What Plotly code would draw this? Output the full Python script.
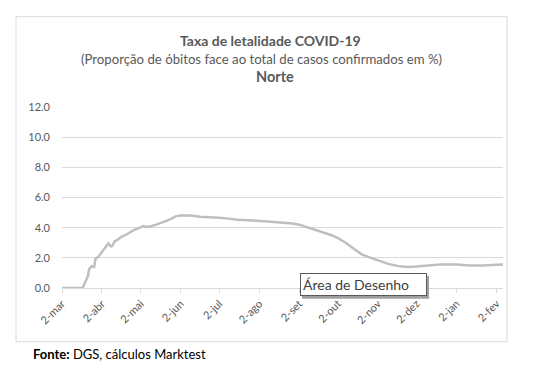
import plotly.graph_objects as go

# ---- data ----
dates = [
    "2020-03-02", "2020-03-18", "2020-03-20", "2020-03-22", "2020-03-23", "2020-03-25",
    "2020-03-27", "2020-03-28", "2020-03-30", "2020-04-01", "2020-04-04", "2020-04-06",
    "2020-04-07", "2020-04-09", "2020-04-10", "2020-04-12", "2020-04-15", "2020-04-17",
    "2020-04-20", "2020-04-22", "2020-04-24", "2020-04-27", "2020-04-30", "2020-05-04",
    "2020-05-06", "2020-05-10", "2020-05-14", "2020-05-18", "2020-05-22", "2020-05-26",
    "2020-05-29", "2020-06-02", "2020-06-10", "2020-06-17", "2020-06-25", "2020-07-02",
    "2020-07-09", "2020-07-16", "2020-07-25", "2020-08-02", "2020-08-10", "2020-08-20",
    "2020-08-28", "2020-09-02", "2020-09-08", "2020-09-14", "2020-09-20", "2020-09-27",
    "2020-10-02", "2020-10-08", "2020-10-14", "2020-10-20", "2020-10-26", "2020-11-02",
    "2020-11-10", "2020-11-18", "2020-11-25", "2020-12-02", "2020-12-10", "2020-12-20",
    "2021-01-02", "2021-01-12", "2021-01-22", "2021-02-02", "2021-02-07",
]
taxa = [
    0.0, 0.0, 0.4, 0.75, 1.25, 1.45,
    1.4, 1.95, 2.05, 2.3, 2.6, 2.85,
    2.95, 2.75, 2.8, 3.1, 3.25, 3.4,
    3.5, 3.6, 3.75, 3.85, 3.95, 4.1,
    4.05, 4.1, 4.2, 4.3, 4.45, 4.6,
    4.75, 4.8, 4.8, 4.72, 4.7, 4.65,
    4.6, 4.52, 4.5, 4.45, 4.4, 4.35,
    4.28, 4.2, 4.05, 3.85, 3.7, 3.5,
    3.3, 3.0, 2.6, 2.25, 2.05, 1.85,
    1.6, 1.45, 1.4, 1.42, 1.5, 1.55,
    1.55, 1.5, 1.5, 1.52, 1.55,
]
tick_dates = ["2020-03-02", "2020-04-02", "2020-05-02", "2020-06-02", "2020-07-02",
              "2020-08-02", "2020-09-02", "2020-10-02", "2020-11-02", "2020-12-02",
              "2021-01-02", "2021-02-02"]
tick_labels = ["2-mar", "2-abr", "2-mai", "2-jun", "2-jul", "2-ago", "2-set",
               "2-out", "2-nov", "2-dez", "2-jan", "2-fev"]
y_ticks = [0, 2, 4, 6, 8, 10, 12]
y_labels = ["0.0", "2.0", "4.0", "6.0", "8.0", "10.0", "12.0"]

title1 = "Taxa de letalidade COVID-19"
title2 = "(Proporção de óbitos face ao total de casos confirmados em %)"
title3 = "Norte"
source_bold = "Fonte:"
source_rest = " DGS, cálculos Marktest"
tooltip = "Área de Desenho"

# ---- layout geometry (pixels) ----
W, H = 550, 375
PL, PR, PT, PB = 62, 503, 107.3, 288.3
FONT = "Lato, 'Open Sans', sans-serif"
GRAY = "#595959"


def px(x):
    return (x - PL) / (PR - PL)


def py(y):
    return (PB - y) / (PB - PT)


fig = go.Figure()
fig.add_trace(go.Scatter(
    x=dates, y=taxa, mode="lines",
    line=dict(color="#BFBFBF", width=2.5),
    hoverinfo="skip", showlegend=False,
))

fig.update_layout(
    width=W, height=H,
    margin=dict(l=PL, r=W - PR, t=PT, b=H - PB),
    paper_bgcolor="white", plot_bgcolor="white",
    font=dict(family=FONT, color=GRAY, size=11),
    showlegend=False,
    xaxis=dict(
        range=["2020-03-02", "2021-02-07"],
        tickmode="array", tickvals=tick_dates, ticktext=tick_labels,
        tickangle=-45, ticks="outside", ticklen=4, tickcolor="#D9D9D9",
        showgrid=False, showline=True, linecolor="#D9D9D9", linewidth=1,
        zeroline=False, tickfont=dict(size=11, color=GRAY),
    ),
    yaxis=dict(
        range=[0, 12], tickmode="array", tickvals=y_ticks, ticktext=y_labels,
        showgrid=True, gridcolor="#D9D9D9", gridwidth=1, zeroline=False,
        showline=False, ticks="", tickfont=dict(size=11, color=GRAY),
        ticklabelstandoff=11,
    ),
)

# outer chart border
fig.add_shape(type="rect", xref="paper", yref="paper",
              x0=px(16), x1=px(507), y0=py(342), y1=py(17),
              line=dict(color="#D9D9D9", width=1), fillcolor="rgba(0,0,0,0)",
              layer="below")

# titles
fig.add_annotation(xref="paper", yref="paper", x=px(270), y=py(41),
                   text=f"<b>{title1}</b>", showarrow=False,
                   font=dict(size=14, color=GRAY), xanchor="center", yanchor="middle")
fig.add_annotation(xref="paper", yref="paper", x=px(261), y=py(59),
                   text=title2, showarrow=False,
                   font=dict(size=13.2, color=GRAY), xanchor="center", yanchor="middle")
fig.add_annotation(xref="paper", yref="paper", x=px(275), y=py(77),
                   text=f"<b>{title3}</b>", showarrow=False,
                   font=dict(size=14.5, color=GRAY), xanchor="center", yanchor="middle")

# source
fig.add_annotation(xref="paper", yref="paper", x=px(31), y=py(354),
                   text=f"<b>{source_bold}</b>{source_rest}", showarrow=False,
                   font=dict(size=13, color="#000000"), xanchor="left", yanchor="middle")

# Excel tooltip box
fig.add_shape(type="rect", xref="paper", yref="paper",
              x0=px(302), x1=px(429), y0=py(299), y1=py(276),
              line=dict(width=0), fillcolor="#A0A0A0")
fig.add_annotation(xref="paper", yref="paper", x=px(300), y=py(284.5),
                   text=tooltip, showarrow=False,
                   font=dict(size=14, color="#404040"), xanchor="left", yanchor="middle",
                   bgcolor="white", bordercolor="#595959", borderwidth=1, borderpad=2,
                   width=121, height=17, align="left")

fig.write_html("out.html", config={"displayModeBar": False},
               post_script="document.body.style.margin='0';document.body.style.padding='0';")
